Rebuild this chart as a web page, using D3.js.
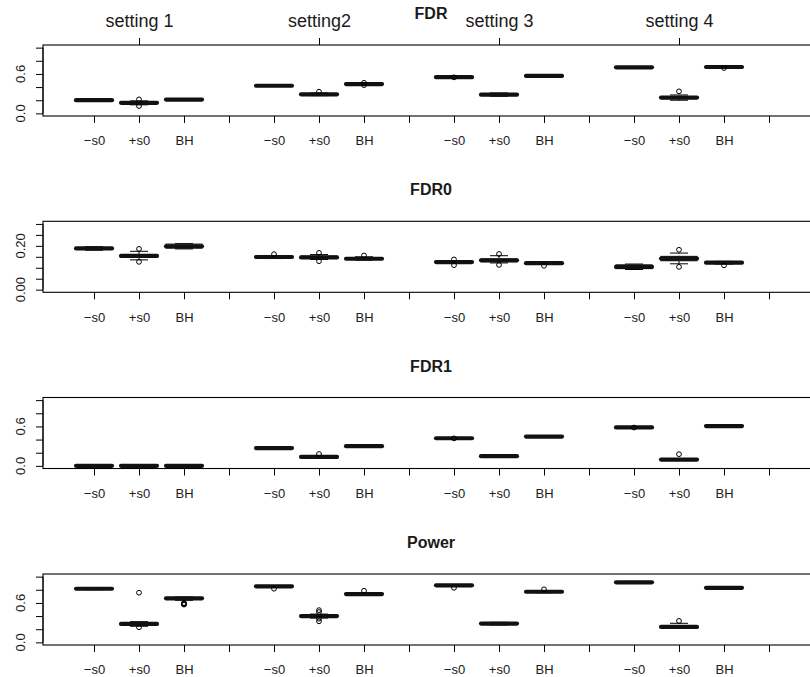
<!DOCTYPE html>
<html>
<head>
<meta charset="utf-8">
<script src="https://cdn.jsdelivr.net/npm/d3@7/dist/d3.min.js"></script>
<style>
body { margin: 0; background: #fff; }
text { font-family: "Liberation Sans", Arial, Helvetica, sans-serif; fill: #1a1a1a; }
</style>
</head>
<body>
<div id="chart"></div>
<script>
// categories
var settings = ["setting 1", "setting2", "setting 3", "setting 4"];
var methods = ["\u2212s0", "+s0", "BH"];
var panelTitles = ["FDR", "FDR0", "FDR1", "Power"];

// y ticks and the ones that carry a label
var ticks01 = [0, 0.2, 0.4, 0.6, 0.8, 1.0];
var labels01 = [0, 0.6];
var ticksFdr0 = [0, 0.05, 0.1, 0.15, 0.2, 0.25, 0.3];
var labelsFdr0 = [0, 0.2];

// boxes: [lower whisker, q1, median, q3, upper whisker]
// order: setting 1 (-s0, +s0, BH), setting2 (...), setting 3, setting 4
var fdrStats = [
  [0.19, 0.195, 0.20, 0.205, 0.21], [0.13, 0.15, 0.16, 0.17, 0.19], [0.20, 0.205, 0.21, 0.215, 0.22],
  [0.41, 0.415, 0.42, 0.425, 0.43], [0.27, 0.28, 0.29, 0.295, 0.31], [0.43, 0.44, 0.445, 0.45, 0.46],
  [0.54, 0.545, 0.55, 0.555, 0.56], [0.26, 0.275, 0.285, 0.30, 0.31], [0.56, 0.565, 0.57, 0.575, 0.58],
  [0.69, 0.695, 0.70, 0.705, 0.71], [0.20, 0.225, 0.24, 0.25, 0.28], [0.69, 0.695, 0.705, 0.71, 0.72]
];
var fdrOut = [[], [0.213, 0.112], [], [], [0.33], [0.465, 0.43],
  [0.548], [], [], [], [0.335], [0.69]];

var fdr0Stats = [
  [0.18, 0.184, 0.188, 0.192, 0.196], [0.136, 0.148, 0.154, 0.160, 0.175], [0.186, 0.19, 0.198, 0.208, 0.21],
  [0.142, 0.146, 0.149, 0.152, 0.156], [0.138, 0.143, 0.147, 0.153, 0.16], [0.135, 0.138, 0.141, 0.144, 0.15],
  [0.12, 0.123, 0.126, 0.129, 0.132], [0.122, 0.128, 0.134, 0.14, 0.155], [0.116, 0.118, 0.121, 0.124, 0.127],
  [0.092, 0.096, 0.104, 0.113, 0.117], [0.118, 0.132, 0.142, 0.152, 0.167], [0.117, 0.120, 0.123, 0.126, 0.129]
];
var fdr0Out = [[], [0.186, 0.127], [], [0.162], [0.168, 0.13], [0.156],
  [0.138, 0.112], [0.163, 0.113], [0.109], [], [0.182, 0.104], [0.111]];

var fdr1Stats = [
  [0, 0, 0, 0.004, 0.008], [0, 0, 0, 0.004, 0.008], [0, 0, 0, 0.004, 0.008],
  [0.26, 0.265, 0.27, 0.275, 0.28], [0.12, 0.13, 0.136, 0.142, 0.15], [0.29, 0.295, 0.30, 0.305, 0.31],
  [0.41, 0.415, 0.42, 0.425, 0.43], [0.13, 0.138, 0.148, 0.158, 0.165], [0.435, 0.44, 0.445, 0.45, 0.455],
  [0.575, 0.58, 0.585, 0.59, 0.595], [0.085, 0.09, 0.096, 0.102, 0.11], [0.595, 0.60, 0.605, 0.61, 0.615]
];
var fdr1Out = [[], [], [], [], [0.18], [],
  [0.418], [], [], [0.583], [0.178], []];

var powerStats = [
  [0.80, 0.81, 0.816, 0.822, 0.83], [0.245, 0.268, 0.28, 0.29, 0.315], [0.64, 0.66, 0.67, 0.68, 0.69],
  [0.84, 0.848, 0.853, 0.858, 0.865], [0.37, 0.39, 0.40, 0.41, 0.43], [0.72, 0.728, 0.735, 0.742, 0.75],
  [0.855, 0.862, 0.868, 0.874, 0.88], [0.265, 0.275, 0.286, 0.295, 0.305], [0.755, 0.763, 0.77, 0.777, 0.785],
  [0.90, 0.908, 0.914, 0.92, 0.928], [0.215, 0.225, 0.235, 0.245, 0.29], [0.82, 0.825, 0.83, 0.835, 0.84]
];
var powerOut = [[], [0.755, 0.23], [0.60, 0.59, 0.58, 0.575], [0.816], [0.49, 0.46, 0.36, 0.32], [0.785],
  [0.83], [], [0.807], [], [0.326], []];

var width = 810, height = 677;
var plotLeft = 43, plotRight = 819, plotH = 71;
var panelTops = [45, 221.3, 397.5, 574];

var panels = [
  {title: panelTitles[0], stats: fdrStats, out: fdrOut, dom: [-0.04, 1.04], ticks: ticks01, labels: labels01, fmt: d3.format(".1f")},
  {title: panelTitles[1], stats: fdr0Stats, out: fdr0Out, dom: [-0.012, 0.312], ticks: ticksFdr0, labels: labelsFdr0, fmt: d3.format(".2f")},
  {title: panelTitles[2], stats: fdr1Stats, out: fdr1Out, dom: [-0.04, 1.04], ticks: ticks01, labels: labels01, fmt: d3.format(".1f")},
  {title: panelTitles[3], stats: powerStats, out: powerOut, dom: [-0.04, 1.04], ticks: ticks01, labels: labels01, fmt: d3.format(".1f")}
];

var svg = d3.select("#chart").append("svg")
    .attr("width", width)
    .attr("height", height);

// positions 1..16, every 4th left empty
var x = d3.scaleLinear().domain([1, 16]).range([94, 769]);
var hw = 0.4 * (x(2) - x(1));
function pos(i) { return Math.floor(i / 3) * 4 + (i % 3) + 1; }
var tickLabel = function(p) {
  var k = (p - 1) % 4;
  return k < 3 ? methods[k] : "";
};

panels.forEach(function(pn, k) {
  var top = panelTops[k];
  var y = d3.scaleLinear().domain(pn.dom).range([top + plotH, top]);
  var g = svg.append("g");

  // title
  g.append("text")
    .attr("x", (plotLeft + plotRight) / 2)
    .attr("y", top - 26)
    .attr("text-anchor", "middle")
    .style("font-size", "16px")
    .style("font-weight", "bold")
    .text(pn.title);

  // bottom axis
  var xa = g.append("g")
    .attr("transform", "translate(0," + (top + plotH) + ")")
    .call(d3.axisBottom(x).tickValues(d3.range(1, 17)).tickSize(7).tickSizeOuter(0)
      .tickPadding(13).tickFormat(tickLabel));
  xa.select(".domain").remove();
  xa.selectAll("text").style("font-size", "13px").style("font-family", null);
  xa.selectAll("line").attr("stroke", "#000");

  // left axis
  var ya = g.append("g")
    .attr("transform", "translate(" + plotLeft + ",0)")
    .call(d3.axisLeft(y).tickValues(pn.ticks).tickSize(7).tickFormat(""));
  ya.select(".domain").attr("d", "M0," + y(pn.ticks[0]) + "V" + y(pn.ticks[pn.ticks.length - 1]));
  ya.selectAll("line").attr("stroke", "#000");
  g.selectAll(".ylab").data(pn.labels).join("text")
    .attr("class", "ylab")
    .attr("transform", function(d) { return "translate(24.5," + y(d) + ") rotate(-90)"; })
    .attr("text-anchor", "middle")
    .style("font-size", "13px")
    .text(pn.fmt);

  // top axis with settings, first panel only
  if (k === 0) {
    var ta = g.append("g")
      .attr("transform", "translate(0," + top + ")")
      .call(d3.axisTop(x).tickValues([2, 6, 10, 14]).tickSize(7).tickSizeOuter(0)
        .tickPadding(11.5).tickFormat(function(d, i) { return settings[i]; }));
    ta.select(".domain").remove();
    ta.selectAll("text").style("font-size", "18px").style("font-family", null);
    ta.selectAll("line").attr("stroke", "#000");
  }

  // plot box
  g.append("rect")
    .attr("x", plotLeft)
    .attr("y", top)
    .attr("width", plotRight - plotLeft)
    .attr("height", plotH)
    .attr("fill", "none")
    .attr("stroke", "#000")
    .attr("stroke-width", 1.1);

  var boxes = g.selectAll(".bx").data(pn.stats).join("g").attr("class", "bx");
  // whiskers
  boxes.append("line")
    .attr("x1", function(d, i) { return x(pos(i)); })
    .attr("x2", function(d, i) { return x(pos(i)); })
    .attr("y1", function(d) { return y(d[0]); })
    .attr("y2", function(d) { return y(d[4]); })
    .attr("stroke", "#000")
    .attr("stroke-dasharray", "3,2");
  [0, 4].forEach(function(j) {
    boxes.append("line")
      .attr("x1", function(d, i) { return x(pos(i)) - hw / 2; })
      .attr("x2", function(d, i) { return x(pos(i)) + hw / 2; })
      .attr("y1", function(d) { return y(d[j]); })
      .attr("y2", function(d) { return y(d[j]); })
      .attr("stroke", "#000");
  });
  boxes.append("rect")
    .attr("x", function(d, i) { return x(pos(i)) - hw; })
    .attr("y", function(d) { return y(d[3]); })
    .attr("width", 2 * hw)
    .attr("height", function(d) { return Math.max(0.5, y(d[1]) - y(d[3])); })
    .attr("fill", "#fff")
    .attr("stroke", "#000");
  boxes.append("line")
    .attr("x1", function(d, i) { return x(pos(i)) - hw; })
    .attr("x2", function(d, i) { return x(pos(i)) + hw; })
    .attr("y1", function(d) { return y(d[2]); })
    .attr("y2", function(d) { return y(d[2]); })
    .attr("stroke", "#111")
    .attr("stroke-width", 4.2)
    .attr("stroke-linecap", "round");

  // outliers
  var pts = [];
  pn.out.forEach(function(list, i) {
    list.forEach(function(v) { pts.push({p: pos(i), v: v}); });
  });
  g.selectAll(".out").data(pts).join("circle")
    .attr("class", "out")
    .attr("cx", function(d) { return x(d.p); })
    .attr("cy", function(d) { return y(d.v); })
    .attr("r", 2.4)
    .attr("fill", "none")
    .attr("stroke", "#000")
    .attr("stroke-width", 1);
});
</script>
</body>
</html>
